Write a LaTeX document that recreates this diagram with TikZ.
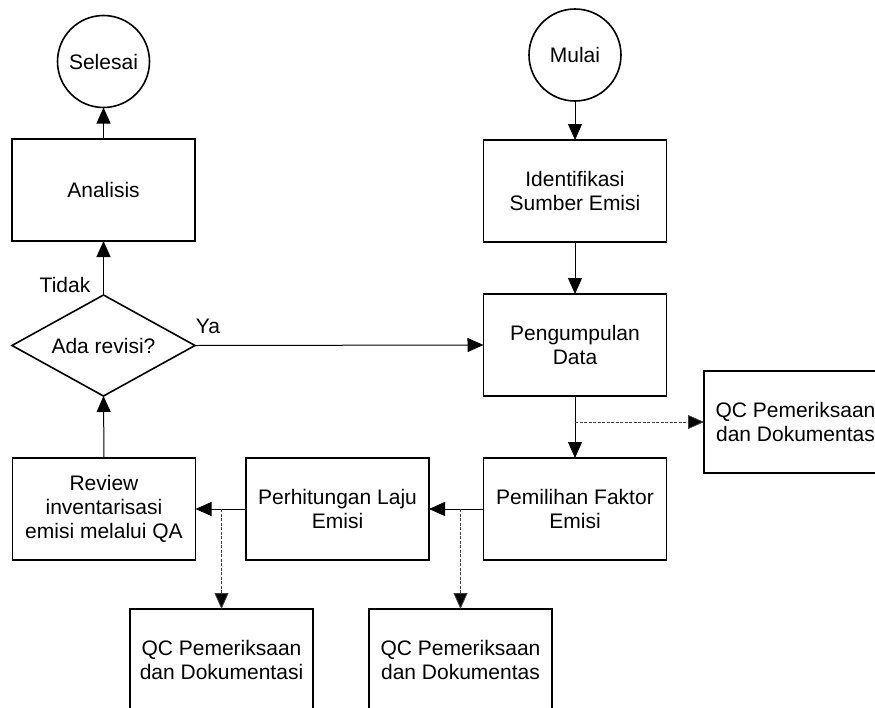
\documentclass[tikz,border=0pt]{standalone}
\usepackage{fontspec}
\setmainfont{Liberation Sans}
\usetikzlibrary{arrows.meta,shapes.geometric}
\begin{document}
\begin{tikzpicture}[x=1pt,y=-1pt,
  txt/.style={font=\fontsize{21}{24}\selectfont},
  box/.style={txt,draw,line width=1.6pt,minimum width=183pt,minimum height=102pt,align=center,inner sep=0pt,outer sep=0pt},
  term/.style={txt,draw,circle,line width=1.6pt,minimum size=92pt,inner sep=0pt,outer sep=0pt},
  dec/.style={draw,diamond,line width=1.6pt,minimum width=183pt,minimum height=101pt,inner sep=0pt,outer sep=0pt},
  arr/.style={line width=1pt,-{Triangle[length=16pt,width=14pt]}},
  dsh/.style={line width=0.8pt,dash pattern=on 3pt off 1.5pt,black!75,-{Triangle[length=16pt,width=14pt,fill=black]}}
]
\useasboundingbox (0,0) rectangle (875,707);
\clip (0,0) rectangle (875,707);

\node[term] (sel) at (103.5,61.5) {Selesai};
\node[box] (anal) at (103.5,190) {Analisis};
\node[dec,label={[txt]center:Ada revisi?}] (dec) at (103.5,345.5) {};
\node[box] (review) at (104,509) {Review\\inventarisasi\\emisi melalui QA};
\node[box] (perh) at (337.5,509) {Perhitungan Laju\\Emisi};

\node[term] (mulai) at (575,55) {Mulai};
\node[box] (ident) at (575,191) {Identifikasi\\Sumber Emisi};
\node[box] (peng) at (575,345) {Pengumpulan\\Data};
\node[box] (pemil) at (575,509) {Pemilihan Faktor\\Emisi};
\node[box] (qc1) at (795.5,422) {QC Pemeriksaan\\dan Dokumentas};
\node[box] (qc2) at (460.5,660) {QC Pemeriksaan\\dan Dokumentas};
\node[box] (qc3) at (221.5,660) {QC Pemeriksaan\\dan Dokumentasi};

\node[txt] (tidak) at (65,285) {Tidak};
\node[txt] (ya) at (208,326) {Ya};

\coordinate (j1) at (575,422);
\coordinate (j2) at (460.5,509);
\coordinate (j3) at (221.5,509);

\draw[arr] (mulai) -- (ident);
\draw[arr] (ident) -- (peng);
\draw[arr] (peng) -- (pemil);
\draw[dsh] (j1) -- (qc1.west);
\draw[arr] (pemil) -- (perh);
\draw[dsh] (j2) -- (qc2.north);
\draw[arr] (perh) -- (review);
\draw[dsh] (j3) -- (qc3.north);
\draw[arr] (review.north) -- (dec.south);
\draw[arr] (dec.north) -- (anal.south);
\draw[arr] (anal) -- (sel);
\draw[arr] (dec.east) -- (peng.west);
\end{tikzpicture}
\end{document}
